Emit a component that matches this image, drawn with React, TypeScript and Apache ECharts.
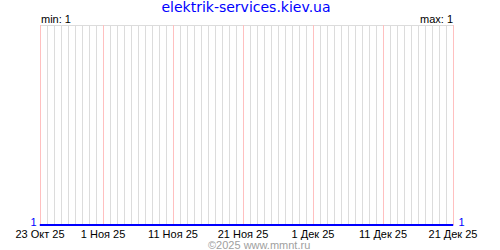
import React, { useEffect, useRef } from "react";
import * as echarts from "echarts";

const title = "elektrik-services.kiev.ua";
const footer = "©2025 www.mmnt.ru";
const monthNames = ["Окт", "Ноя", "Дек"];
const monthStarts = [23, 1, 1];
const monthEnds = [31, 30, 21];
const tickLabels = ["23 Окт 25", "1 Ноя 25", "11 Ноя 25", "21 Ноя 25", "1 Дек 25", "11 Дек 25", "21 Дек 25"];
const values = [
  1, 1, 1, 1, 1, 1, 1, 1, 1, 1,
  1, 1, 1, 1, 1, 1, 1, 1, 1, 1,
  1, 1, 1, 1, 1, 1, 1, 1, 1, 1,
  1, 1, 1, 1, 1, 1, 1, 1, 1, 1,
  1, 1, 1, 1, 1, 1, 1, 1, 1, 1,
  1, 1, 1, 1, 1, 1, 1, 1, 1, 1,
];
const minValue = 1;
const maxValue = 1;

const categories: string[] = [];
monthNames.forEach((m, i) => {
  for (let d = monthStarts[i]; d <= monthEnds[i]; d++) categories.push(`${d} ${m} 25`);
});

export default function App() {
  const ref = useRef<HTMLDivElement>(null);
  useEffect(() => {
    const chart = echarts.init(ref.current!, null, { renderer: "svg" });
    const font = "DejaVu Sans, Verdana, sans-serif";
    const small = "Liberation Sans, Arial, sans-serif";
    const last = values.length - 1;
    chart.setOption({
      animation: false,
      backgroundColor: "#ffffff",
      title: {
        text: title,
        left: 246,
        textAlign: "center",
        top: 0,
        padding: 0,
        textStyle: { color: "#0000ff", fontSize: 14, fontWeight: "normal", fontFamily: font },
      },
      grid: { left: 40, right: 47, top: 25, bottom: 25 },
      xAxis: {
        type: "category",
        data: categories,
        boundaryGap: false,
        axisLine: { show: false },
        axisTick: { show: false },
        axisLabel: {
          interval: (i: number, v: string) => tickLabels.includes(v),
          color: "#000000",
          fontSize: 11,
          lineHeight: 11,
          fontFamily: small,
          margin: 3,
          showMinLabel: true,
          showMaxLabel: true,
        },
        splitLine: { show: true, interval: 0, lineStyle: { color: "#dcdcdc", width: 1 } },
      },
      yAxis: {
        type: "value",
        min: 1,
        max: 2,
        interval: 1,
        axisLabel: { show: false },
        axisLine: { show: false },
        axisTick: { show: false },
        splitLine: { show: true, lineStyle: { color: "#dcdcdc", width: 1 } },
      },
      series: [
        {
          type: "line",
          data: values.map((v, i) => {
            if (i === 0)
              return { value: v, label: { show: true, position: "left", offset: [0, -3] } };
            if (i === last)
              return { value: v, label: { show: true, position: "right", offset: [2, -3] } };
            return v;
          }),
          showSymbol: true,
          symbol: "circle",
          symbolSize: 1,
          itemStyle: { color: "#0000ff" },
          lineStyle: { color: "#0000ff", width: 2 },
          label: { show: false, color: "#0000ff", fontSize: 11, fontFamily: small, distance: 3 },
          markLine: {
            silent: true,
            symbol: "none",
            label: { show: false },
            lineStyle: { color: "#ffc0c0", width: 1, type: "solid" },
            data: tickLabels.map((t) => ({ xAxis: t })),
            z: 1,
          },
          z: 5,
        },
      ],
      graphic: [
        {
          type: "text",
          left: 41,
          top: 13,
          style: { text: `min: ${minValue}`, fill: "#000", fontSize: 11, fontFamily: small },
        },
        {
          type: "text",
          right: 47,
          top: 13,
          style: { text: `max: ${maxValue}`, fill: "#000", fontSize: 11, fontFamily: small },
        },
        {
          type: "text",
          left: 208,
          top: 239,
          style: { text: footer, fill: "#a0a0a0", fontSize: 11, lineHeight: 11, fontFamily: small },
        },
      ],
    });
    return () => chart.dispose();
  }, []);
  return <div ref={ref} style={{ width: 500, height: 250, position: "absolute", left: 0, top: 0 }} />;
}
